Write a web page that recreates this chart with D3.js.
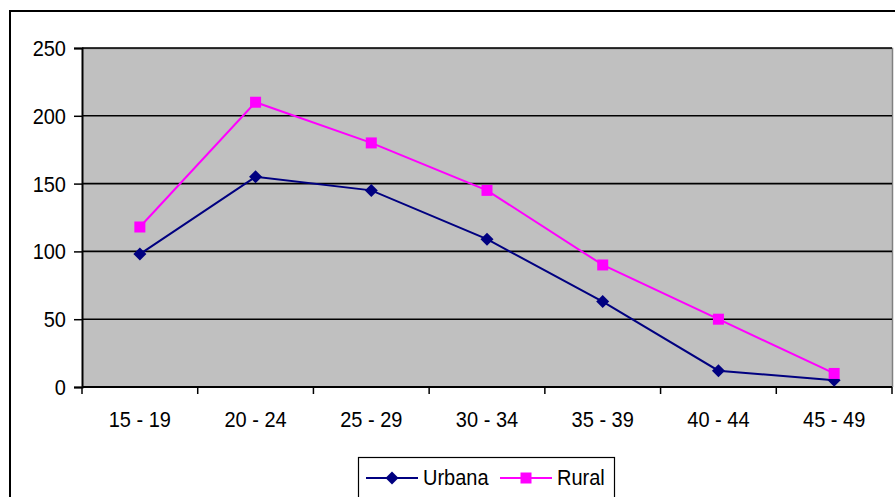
<!DOCTYPE html>
<html><head><meta charset="utf-8">
<script src="https://cdn.jsdelivr.net/npm/d3@7"></script>
<style>body{margin:0;background:#fff}svg{display:block}text{font-family:"Liberation Sans",Arial,sans-serif;fill:#000}</style>
</head><body>
<svg id="c" width="895" height="497"></svg>
<script>
const categories = ["15 - 19","20 - 24","25 - 29","30 - 34","35 - 39","40 - 44","45 - 49"];
const urbana = [98,155,145,109,63,12,5];
const rural = [118,210,180,145,90,50,10];
const yTicks = [0,50,100,150,200,250];
const seriesNames = ["Urbana","Rural"];

const svg = d3.select("#c");
const L = 82, R = 892, T = 48, B = 387;

// outer chart border
svg.append("path").attr("d","M10,500 L10,11 L900,11").attr("fill","none").attr("stroke","#000").attr("stroke-width",2);

const x = d3.scaleBand().domain(categories).range([L,R]);
const y = d3.scaleLinear().domain([0,250]).range([B,T]);

svg.append("rect").attr("x",L).attr("y",T).attr("width",R-L).attr("height",B-T).attr("fill","#c0c0c0");
svg.append("path").attr("d",`M${L},${T+0.5} L${R+0.5},${T+0.5} L${R+0.5},${B}`).attr("fill","none").attr("stroke","#808080").attr("stroke-width",1.5);

// gridlines
svg.append("g").selectAll("line").data(yTicks.filter(d=>d>0)).join("line")
  .attr("x1",L).attr("x2",R).attr("y1",d=>y(d)).attr("y2",d=>y(d))
  .attr("stroke","#000").attr("stroke-width",1.6);

// y axis
const ya = svg.append("g").attr("transform",`translate(${L},0)`)
  .call(d3.axisLeft(y).tickValues(yTicks).tickSize(8).tickPadding(8));
ya.select(".domain").attr("stroke","#000").attr("stroke-width",2);
ya.selectAll(".tick line").attr("stroke","#000").attr("stroke-width",1.5);
ya.selectAll("text").style("font-size","20px").attr("x",-16).attr("y",0).attr("dy",0)
  .attr("transform","translate(0,7.5) scale(1,1.1)");

// x axis
const xa = svg.append("g").attr("transform",`translate(0,${B})`)
  .call(d3.axisBottom(x).tickSize(0).tickPadding(17));
xa.select(".domain").attr("stroke","#000").attr("stroke-width",2).attr("d",`M${L},0H${R}`);
xa.selectAll("text").style("font-size","20px").attr("y",0).attr("dy",0)
  .attr("transform","translate(0,40) scale(1,1.1)");
svg.append("g").selectAll("line").data(d3.range(categories.length+1)).join("line")
  .attr("x1",i=>L+i*x.step()).attr("x2",i=>L+i*x.step()).attr("y1",B).attr("y2",B+7)
  .attr("stroke","#000").attr("stroke-width",1.5);

const cx = d => x(d)+x.bandwidth()/2;
const line = d3.line().x(d=>cx(d[0])).y(d=>y(d[1]));
const diamond = (s)=>`M0,${-s}L${s},0L0,${s}L${-s},0Z`;

function drawSeries(vals,color,shape){
  const pts = categories.map((c,i)=>[c,vals[i]]);
  svg.append("path").datum(pts).attr("d",line).attr("fill","none").attr("stroke",color).attr("stroke-width",2);
  const g = svg.append("g");
  pts.forEach(p=>{
    if(shape==="diamond") g.append("path").attr("d",diamond(6.5)).attr("transform",`translate(${cx(p[0])},${y(p[1])})`).attr("fill",color);
    else g.append("rect").attr("x",cx(p[0])-5.5).attr("y",y(p[1])-5.5).attr("width",11).attr("height",11).attr("fill",color);
  });
}
drawSeries(urbana,"#000080","diamond");
drawSeries(rural,"#ff00ff","square");

// legend
const lg = svg.append("g");
lg.append("rect").attr("x",358.5).attr("y",457.5).attr("width",256).attr("height",50).attr("fill","#fff").attr("stroke","#000").attr("stroke-width",1.2);
const legendItems = [{n:seriesNames[0],c:"#000080",s:"diamond",x0:366,tx:423},{n:seriesNames[1],c:"#ff00ff",s:"square",x0:500,tx:557}];
legendItems.forEach(it=>{
  lg.append("line").attr("x1",it.x0).attr("x2",it.x0+52).attr("y1",478).attr("y2",478).attr("stroke",it.c).attr("stroke-width",2);
  if(it.s==="diamond") lg.append("path").attr("d",diamond(6.5)).attr("transform",`translate(${it.x0+26},478)`).attr("fill",it.c);
  else lg.append("rect").attr("x",it.x0+26-5.5).attr("y",472.5).attr("width",11).attr("height",11).attr("fill",it.c);
  lg.append("text").attr("transform",`translate(${it.tx},485) scale(1,1.1)`).style("font-size","20px").text(it.n);
});
</script>
</body></html>
